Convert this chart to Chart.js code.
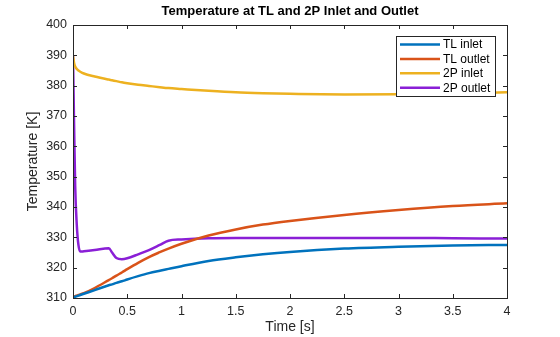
<!DOCTYPE html>
<html>
<head>
<meta charset="utf-8">
<script src="https://cdn.jsdelivr.net/npm/chart.js@4.4.0/dist/chart.umd.min.js"></script>
<style>
  html, body { margin: 0; padding: 0; background: #fff; }
  #wrap { width: 560px; height: 337px; }
</style>
</head>
<body>
<div id="wrap"><canvas id="tempChart" width="560" height="337"></canvas></div>
<script>
// time samples [s] (denser where the 2P outlet changes fast)
const timeS = [0, 0.01, 0.02, 0.035, 0.05, 0.067, 0.1, 0.2, 0.33, 0.36, 0.4, 0.45, 0.5, 0.6, 0.7, 0.8, 0.88, 1, 1.25, 1.5, 1.75, 2, 2.5, 3, 3.5, 4];

// temperatures [K]
const tlInlet  = [310.2, 310.3, 310.4, 310.6, 310.8, 311.0, 311.4, 312.6, 314.2, 314.5, 315.0, 315.5, 316.1, 317.2, 318.2, 319.0, 319.6, 320.5, 322.2, 323.4, 324.4, 325.2, 326.3, 326.9, 327.3, 327.5];
const tlOutlet = [310.4, 310.5, 310.6, 310.8, 311.0, 311.2, 311.6, 313.3, 315.9, 316.5, 317.4, 318.4, 319.5, 321.6, 323.5, 325.1, 326.3, 327.9, 330.6, 332.6, 334.2, 335.4, 337.4, 339.0, 340.3, 341.2];
const twoPInlet  = [389.8, 387.5, 386.3, 385.5, 385.0, 384.6, 384.0, 383.0, 382.0, 381.8, 381.5, 381.1, 380.8, 380.3, 379.9, 379.5, 379.2, 378.9, 378.3, 377.8, 377.5, 377.3, 377.1, 377.2, 377.4, 377.8];
const twoPOutlet = [389.8, 367.0, 347.0, 334.0, 327.5, 325.3, 325.4, 325.8, 326.4, 325.0, 323.2, 322.8, 323.1, 324.4, 325.8, 327.5, 328.9, 329.3, 329.7, 329.8, 329.8, 329.8, 329.8, 329.8, 329.7, 329.6];

const seriesNames = ['TL inlet', 'TL outlet', '2P inlet', '2P outlet'];
const seriesColors = ['#0072BD', '#D95319', '#EDB120', '#8A1FD6'];
const yTicks = [310, 320, 330, 340, 350, 360, 370, 380, 390, 400];
const xTicks = [0, 0.5, 1, 1.5, 2, 2.5, 3, 3.5, 4];

const allSeries = [tlInlet, tlOutlet, twoPInlet, twoPOutlet];
const textColor = '#262626';
const fontFamily = 'Arial, "Liberation Sans", Helvetica, sans-serif';

// MATLAB style box with inward ticks + legend inside the axes
const matlabAxes = {
  id: 'matlabAxes',
  afterDatasetsDraw(chart) {
    const { ctx, chartArea: a, scales } = chart;
    ctx.save();
    ctx.strokeStyle = textColor;
    ctx.lineWidth = 1;
    ctx.beginPath();
    const tl = 4;
    xTicks.forEach(v => {
      const x = Math.round(scales.x.getPixelForValue(v)) + 0.5;
      ctx.moveTo(x, a.bottom); ctx.lineTo(x, a.bottom - tl);
      ctx.moveTo(x, a.top); ctx.lineTo(x, a.top + tl);
    });
    yTicks.forEach(v => {
      const y = Math.round(scales.y.getPixelForValue(v)) + 0.5;
      ctx.moveTo(a.left, y); ctx.lineTo(a.left + tl, y);
      ctx.moveTo(a.right, y); ctx.lineTo(a.right - tl, y);
    });
    ctx.stroke();
    ctx.strokeRect(Math.round(a.left) + 0.5, Math.round(a.top) + 0.5, Math.round(a.right - a.left), Math.round(a.bottom - a.top));

    // legend
    const lx = 396.5, ly = 36.5, lw = 99, lh = 60;
    ctx.fillStyle = '#fff';
    ctx.fillRect(lx, ly, lw, lh);
    ctx.strokeStyle = '#262626';
    ctx.strokeRect(lx, ly, lw, lh);
    ctx.font = '12px ' + fontFamily;
    ctx.textBaseline = 'middle';
    chart.data.datasets.forEach((ds, i) => {
      const y = 44.5 + i * 14.4;
      ctx.strokeStyle = ds.borderColor;
      ctx.lineWidth = 2.5;
      ctx.beginPath();
      ctx.moveTo(400, y); ctx.lineTo(440, y);
      ctx.stroke();
      ctx.fillStyle = '#000';
      ctx.fillText(ds.label, 443, y + 0.5);
    });
    ctx.restore();
  }
};

const ctx = document.getElementById('tempChart').getContext('2d');
new Chart(ctx, {
  type: 'line',
  data: {
    datasets: allSeries.map((vals, i) => ({
      label: seriesNames[i],
      data: timeS.map((t, j) => ({ x: t, y: vals[j] })),
      borderColor: seriesColors[i],
      backgroundColor: seriesColors[i],
      borderWidth: 2.5,
      pointRadius: 0,
      fill: false,
      cubicInterpolationMode: 'monotone'
    }))
  },
  options: {
    responsive: false,
    animation: false,
    layout: { padding: { left: 0, right: 53, top: 0, bottom: 0 } },
    plugins: {
      legend: { display: false },
      tooltip: { enabled: false },
      title: {
        display: true,
        fullSize: false,
        text: 'Temperature at TL and 2P Inlet and Outlet',
        color: '#000',
        font: { family: fontFamily, size: 13, weight: 'bold' },
        padding: { top: 4, bottom: 5.4 }
      }
    },
    scales: {
      x: {
        type: 'linear',
        min: 0, max: 4,
        afterFit: s => { s.height = 39; },
        afterBuildTicks: s => { s.ticks = xTicks.map(v => ({ value: v })); },
        grid: { display: false, drawTicks: false },
        border: { display: false },
        ticks: {
          color: textColor, padding: 6,
          font: { family: fontFamily, size: 12.5 },
          maxRotation: 0,
          callback: v => String(v)
        },
        title: {
          display: true, text: 'Time [s]', color: textColor,
          font: { family: fontFamily, size: 14 },
          padding: { top: 0, bottom: 1 }
        }
      },
      y: {
        type: 'linear',
        min: 310, max: 400,
        afterFit: s => { s.width = 73; },
        afterBuildTicks: s => { s.ticks = yTicks.map(v => ({ value: v })); },
        grid: { display: false, drawTicks: false },
        border: { display: false },
        ticks: {
          color: textColor, padding: 6,
          font: { family: fontFamily, size: 12.5 }
        },
        title: {
          display: true, text: 'Temperature [K]', color: textColor,
          font: { family: fontFamily, size: 14 },
          padding: { top: 24.6, bottom: 0 }
        }
      }
    }
  },
  plugins: [matlabAxes]
});
</script>
</body>
</html>
